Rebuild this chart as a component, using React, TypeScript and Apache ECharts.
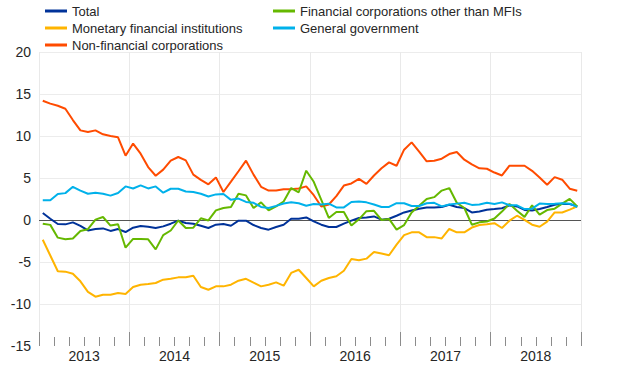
import React, { useEffect, useRef } from "react";
import * as echarts from "echarts";

const yearLabels: string[] = ["2013", "2014", "2015", "2016", "2017", "2018"];
const months: string[] = [];
yearLabels.forEach((y) => {
  for (let m = 1; m <= 12; m++) months.push(`${y}-${m < 10 ? "0" + m : m}`);
});

const seriesNames: string[] = [
  "Total",
  "Monetary financial institutions",
  "Non-financial corporations",
  "Financial corporations other than MFIs",
  "General government",
];

const total: number[] = [
  0.83, 0.15, -0.48, -0.52, -0.28, -0.7, -1.24, -1.08, -1.0, -1.3, -1.08, -1.43,
  -0.92, -0.72, -0.8, -0.95, -0.76, -0.44, -0.08, -0.36, -0.44, -0.68, -0.95, -0.56,
  -0.48, -0.68, -0.08, -0.08, -0.6, -0.95, -1.15, -0.83, -0.56, 0.15, 0.15, 0.31,
  -0.17, -0.56, -0.83, -0.83, -0.44, -0.08, 0.24, 0.31, 0.43, 0.04, 0.15, 0.51,
  0.9, 1.14, 1.35, 1.5, 1.5, 1.55, 1.82, 1.55, 1.42, 0.9, 1.02, 1.23,
  1.3, 1.4, 1.74, 1.62, 1.2, 1.14, 1.3, 1.55, 1.82, 1.94, 1.9, 1.62,
];

const mfi: number[] = [
  -2.35, -4.22, -6.1, -6.15, -6.4, -7.3, -8.55, -9.13, -8.9, -8.9, -8.7, -8.8,
  -7.98, -7.7, -7.63, -7.5, -7.1, -7.0, -6.83, -6.82, -6.63, -7.98, -8.3, -7.9,
  -7.9, -7.7, -7.23, -7.0, -7.46, -7.9, -7.7, -7.43, -7.82, -6.3, -5.92, -6.9,
  -7.9, -7.23, -6.9, -6.7, -6.04, -4.64, -4.8, -4.6, -3.8, -4.0, -4.2, -2.94,
  -1.8, -1.47, -1.47, -2.04, -2.04, -2.2, -1.07, -1.47, -1.47, -0.9, -0.6, -0.5,
  -0.38, -0.95, -0.08, 0.51, 0.02, -0.56, -0.8, -0.2, 0.9, 0.9, 1.23, 1.62,
];

const nfc: number[] = [
  14.2, 13.85, 13.6, 13.25, 11.9, 10.67, 10.47, 10.67, 10.2, 10.0, 9.85, 7.65,
  9.1, 7.9, 6.3, 5.27, 6.0, 7.06, 7.5, 7.1, 5.4, 4.78, 4.25, 5.07,
  3.33, 4.56, 5.8, 7.06, 5.4, 3.95, 3.5, 3.5, 3.65, 3.65, 3.75, 4.0,
  2.95, 1.6, 1.85, 2.85, 4.1, 4.35, 4.9, 4.3, 5.3, 6.15, 6.86, 6.46,
  8.37, 9.24, 8.15, 6.98, 7.05, 7.3, 7.85, 8.1, 7.18, 6.62, 6.15, 6.1,
  5.65, 5.3, 6.46, 6.46, 6.46, 5.85, 5.07, 4.2, 5.1, 4.8, 3.73, 3.48,
];

const ofi: number[] = [
  -0.44, -0.58, -2.1, -2.28, -2.2, -1.3, -1.1, 0.04, 0.36, -0.66, -0.5, -3.3,
  -2.25, -2.25, -2.3, -3.5, -1.8, -1.25, -0.06, -0.95, -0.92, 0.2, -0.05, 1.15,
  1.43, 1.55, 3.13, 2.93, 1.43, 2.1, 1.15, 1.62, 2.2, 3.8, 3.3, 5.87,
  4.55, 2.4, 0.24, 0.95, 0.95, -0.66, 0.08, 1.05, 1.1, 0.0, 0.13, -1.15,
  -0.6, 0.9, 1.7, 2.5, 2.72, 3.5, 3.8, 2.05, 1.43, -0.56, -0.28, -0.18,
  0.18, 1.0, 1.92, 1.1, 0.37, 1.74, 0.63, 1.18, 1.35, 1.94, 2.52, 1.62,
];

const gov: number[] = [
  2.35, 2.35, 3.1, 3.2, 3.95, 3.5, 3.12, 3.25, 3.12, 2.9, 3.22, 4.0,
  3.75, 4.12, 3.76, 4.0, 3.25, 3.72, 3.72, 3.4, 3.33, 3.13, 2.8, 3.05,
  3.1, 2.4, 2.55, 2.15, 2.05, 1.56, 1.43, 1.68, 1.97, 2.1, 2.0, 1.7,
  1.9, 1.85, 1.95, 1.5, 1.5, 2.15, 2.2, 2.1, 1.85, 1.55, 1.55, 2.0,
  2.0, 1.66, 1.66, 2.0, 2.05, 1.62, 1.85, 1.95, 2.05, 1.8, 1.85, 2.05,
  1.9, 2.1, 1.75, 1.75, 1.3, 1.35, 1.95, 1.9, 1.94, 2.0, 1.94, 1.55,
];

const colors: string[] = ["#003299", "#FFB400", "#FF4B00", "#65B800", "#00B1EA"];
const allData: number[][] = [total, mfi, nfc, ofi, gov];

const FONT = "'Liberation Sans', Arial, Helvetica, sans-serif";
const TEXT_COLOR = "#262626";

export default function App() {
  const ref = useRef<HTMLDivElement>(null);

  useEffect(() => {
    if (!ref.current) return;
    const chart = echarts.init(ref.current, undefined, { renderer: "svg" });

    const legendCommon = {
      orient: "vertical" as const,
      top: -2,
      icon: "rect",
      itemWidth: 22,
      itemHeight: 3,
      itemGap: 1,
      selectedMode: false,
      textStyle: {
        fontFamily: FONT,
        fontSize: 13,
        color: TEXT_COLOR,
        lineHeight: 16,
      },
    };

    const series = seriesNames.map((name, i) => {
      const s: any = {
        name,
        type: "line",
        data: allData[i],
        xAxisIndex: 0,
        yAxisIndex: 0,
        symbol: "none",
        showSymbol: false,
        lineStyle: { width: 2, color: colors[i] },
        itemStyle: { color: colors[i] },
        z: 3,
      };
      if (i === 0) {
        s.markLine = {
          silent: true,
          symbol: "none",
          label: { show: false },
          lineStyle: { color: "#555555", width: 1, type: "solid" },
          data: [{ yAxis: 0 }],
          z: 2,
        };
      }
      return s;
    });

    chart.setOption({
      animation: false,
      backgroundColor: "#ffffff",
      textStyle: { fontFamily: FONT },
      legend: [
        { ...legendCommon, left: 40, data: [seriesNames[0], seriesNames[1], seriesNames[2]] },
        { ...legendCommon, left: 268, data: [seriesNames[3], seriesNames[4]] },
      ],
      grid: { left: 39, right: 39, top: 52, bottom: 41, containLabel: false },
      xAxis: [
        {
          type: "category",
          data: months,
          boundaryGap: true,
          position: "bottom",
          axisLine: { show: false, onZero: false },
          axisTick: {
            show: true,
            inside: true,
            length: 9,
            interval: 1,
            lineStyle: { color: "#8c8c8c", width: 1 },
          },
          axisLabel: { show: false },
          splitLine: { show: false },
        },
        {
          type: "category",
          data: yearLabels,
          boundaryGap: true,
          position: "bottom",
          axisLine: { show: false, onZero: false },
          axisTick: {
            show: true,
            inside: true,
            length: 14,
            interval: 0,
            lineStyle: { color: "#8c8c8c", width: 1 },
          },
          axisLabel: {
            show: true,
            interval: 0,
            fontSize: 14,
            color: TEXT_COLOR,
            fontFamily: FONT,
            margin: 3,
          },
          splitLine: { show: true, interval: 0, lineStyle: { color: "#e9e9e9", width: 1 } },
        },
      ],
      yAxis: {
        type: "value",
        min: -15,
        max: 20,
        interval: 5,
        axisLine: { show: false },
        axisTick: { show: false },
        axisLabel: { fontSize: 14, color: TEXT_COLOR, fontFamily: FONT, margin: 8 },
        splitLine: { show: true, showMinLine: false, lineStyle: { color: "#ececec", width: 1 } },
      },
      series,
    });

    return () => {
      chart.dispose();
    };
  }, []);

  return (
    <div
      ref={ref}
      style={{ position: "fixed", left: 0, top: 0, width: 620, height: 387, background: "#fff" }}
    />
  );
}
